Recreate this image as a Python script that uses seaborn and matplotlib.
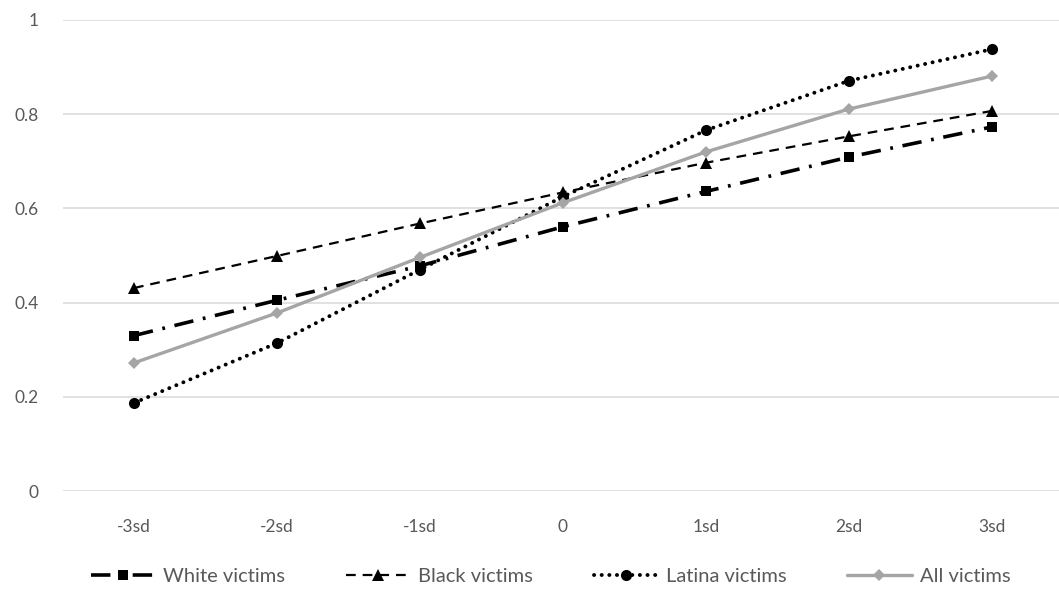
import matplotlib
matplotlib.use("Agg")
import matplotlib.pyplot as plt
import pandas as pd
import seaborn as sns

# chart data
levels = ["-3sd", "-2sd", "-1sd", "0", "1sd", "2sd", "3sd"]
white_victims = [0.330, 0.405, 0.478, 0.561, 0.636, 0.709, 0.773]
black_victims = [0.431, 0.499, 0.568, 0.634, 0.697, 0.753, 0.807]
latina_victims = [0.187, 0.314, 0.470, 0.625, 0.766, 0.871, 0.938]
all_victims = [0.272, 0.378, 0.496, 0.612, 0.720, 0.811, 0.881]
y_ticks = [0, 0.2, 0.4, 0.6, 0.8, 1]
y_labels = ["0", "0.2", "0.4", "0.6", "0.8", "1"]

series = {
    "White victims": white_victims,
    "Black victims": black_victims,
    "Latina victims": latina_victims,
    "All victims": all_victims,
}

sns.set_style("white")
plt.rcParams["font.family"] = ["Lato", "DejaVu Sans"]
plt.rcParams["lines.scale_dashes"] = False

text_col = "#595959"

styles = {
    "White victims": dict(color="black", lw=2.6, linestyle=(0, (14, 7, 2, 7)),
                          marker="s", markersize=7.5),
    "Black victims": dict(color="black", lw=1.6, linestyle=(0, (7, 5)),
                          marker="^", markersize=8.5),
    "Latina victims": dict(color="black", lw=2.8, linestyle=(0, (0.1, 5.4)),
                           dash_capstyle="round", marker="o", markersize=8),
    "All victims": dict(color="#a5a5a5", lw=2.4, linestyle="-",
                        marker="D", markersize=6.5),
}

fig = plt.figure(figsize=(10.59, 5.91), dpi=100)
ax = fig.add_axes([62.5 / 1059, 100 / 591, 1001 / 1059, 471 / 591])

for name, vals in series.items():
    df = pd.DataFrame({"level": levels, "p": vals})
    sns.lineplot(data=df, x="level", y="p", ax=ax, label=name,
                 markeredgewidth=0, sort=False, **styles[name])

ax.set_xlim(-0.5, 6.5)
ax.set_ylim(0, 1)
ax.set_yticks(y_ticks)
ax.set_yticklabels(y_labels)
ax.set_xlabel("")
ax.set_ylabel("")
ax.grid(axis="y", color="#d9d9d9", lw=1.1)
ax.set_axisbelow(True)
for s in ax.spines.values():
    s.set_visible(False)
ax.tick_params(axis="both", length=0, labelsize=12.5, colors=text_col)
ax.tick_params(axis="y", pad=17)
ax.tick_params(axis="x", pad=20)

handles, labels = ax.get_legend_handles_labels()
ax.legend_.remove()
fig.legend(handles, labels, loc="center", bbox_to_anchor=(0.52, 15 / 591),
           ncol=4, frameon=False, fontsize=14.5, labelcolor=text_col,
           handlelength=3.2, handletextpad=0.4, columnspacing=3.0)

fig.savefig("out.png", dpi=100)
